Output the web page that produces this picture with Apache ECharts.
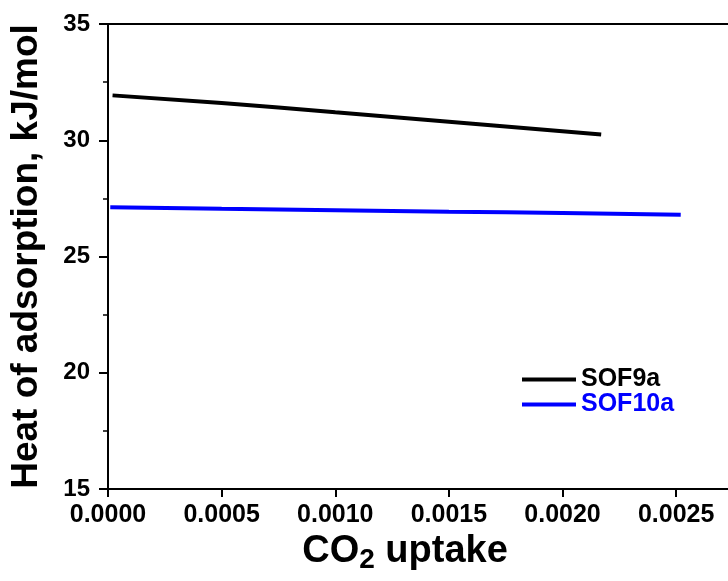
<!DOCTYPE html>
<html><head><meta charset="utf-8">
<script src="https://cdn.jsdelivr.net/npm/echarts@6/dist/echarts.min.js"></script>
<style>html,body{margin:0;padding:0;background:#fff}#c{width:728px;height:581px}</style>
</head><body><div id="c"></div>
<script>
const seriesNames = ['SOF9a', 'SOF10a'];
const sof9aX = [0.00002, 0.0005, 0.0010, 0.0015, 0.00217];
const sof9aY = [31.93, 31.6, 31.2, 30.8, 30.25];
const sof10aX = [0.00001, 0.0005, 0.0010, 0.0015, 0.0020, 0.00252];
const sof10aY = [27.12, 27.05, 26.99, 26.93, 26.87, 26.80];
const xTicks = [0.0000, 0.0005, 0.0010, 0.0015, 0.0020, 0.0025];
const yTicks = [15, 20, 25, 30, 35];
const colors = ['#000000', '#0000ff'];

const font = 'Liberation Sans, Arial, sans-serif';
const chart = echarts.init(document.getElementById('c'));
chart.setOption({
  animation: false,
  grid: { left: 107, top: 24, bottom: 92, right: 0, show: false },
  legend: {
    left: 517, top: 362, orient: 'vertical', itemWidth: 54, itemHeight: 4, itemGap: 0, icon: 'rect',
    data: [
      { name: seriesNames[0], textStyle: { color: colors[0] } },
      { name: seriesNames[1], textStyle: { color: colors[1] } }
    ],
    textStyle: { fontFamily: font, fontWeight: 'bold', fontSize: 25, lineHeight: 25 }
  },
  xAxis: [{
    type: 'value', min: 0, max: 0.002728,
    axisLine: { show: true, onZero: false, lineStyle: { color: '#000', width: 2 } },
    axisTick: { show: true, inside: false, length: 8, customValues: xTicks, lineStyle: { color: '#000', width: 2 } },
    splitLine: { show: false },
    axisLabel: { color: '#000', fontFamily: font, fontWeight: 'bold', fontSize: 25, margin: 14,
      customValues: xTicks, formatter: v => v.toFixed(4) },
    name: '{a|CO}{b|2}{a| uptake}', nameLocation: 'middle', nameGap: 40,
    nameTextStyle: { padding: [0, 26, 0, 0],
      rich: { a: { fontFamily: font, fontWeight: 'bold', fontSize: 38, color: '#000' },
              b: { fontFamily: font, fontWeight: 'bold', fontSize: 28, color: '#000', padding: [16, 0, 0, 0] } } }
  }, {
    type: 'value', position: 'top', min: 0, max: 0.002728,
    axisLine: { show: true, onZero: false, lineStyle: { color: '#000', width: 2 } },
    axisTick: { show: false }, axisLabel: { show: false }, splitLine: { show: false }
  }],
  yAxis: {
    type: 'value', min: 15, max: 35, interval: 5,
    axisLine: { show: true, onZero: false, lineStyle: { color: '#000', width: 2 } },
    axisTick: { show: true, inside: false, length: 9, lineStyle: { color: '#000', width: 2 } },
    minorTick: { show: true, splitNumber: 2, length: 5, lineStyle: { color: '#000', width: 1.5 } },
    splitLine: { show: false },
    axisLabel: { color: '#000', fontFamily: font, fontWeight: 'bold', fontSize: 24, margin: 18,
      formatter: v => yTicks.includes(v) ? String(v) : '' },
    name: 'Heat of adsorption, kJ/mol', nameLocation: 'middle', nameGap: 63,
    nameTextStyle: { fontFamily: font, fontWeight: 'bold', fontSize: 37, color: '#000' }
  },
  series: [
    { name: seriesNames[0], type: 'line', symbol: 'none', smooth: true, color: colors[0],
      lineStyle: { width: 4, color: colors[0] }, data: sof9aX.map((x, i) => [x, sof9aY[i]]) },
    { name: seriesNames[1], type: 'line', symbol: 'none', smooth: true, color: colors[1],
      lineStyle: { width: 4, color: colors[1] }, data: sof10aX.map((x, i) => [x, sof10aY[i]]) }
  ]
});
</script></body></html>
